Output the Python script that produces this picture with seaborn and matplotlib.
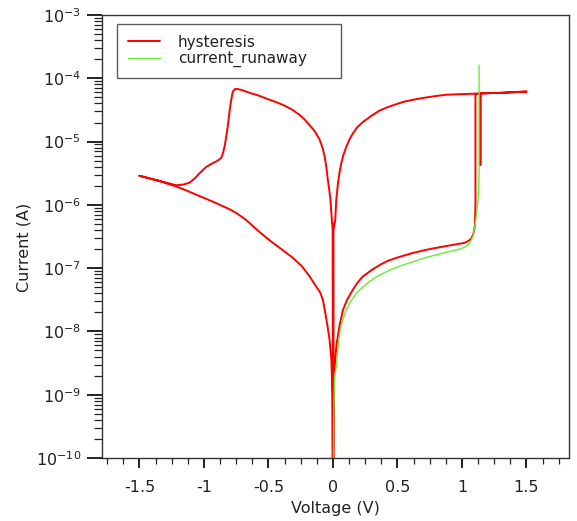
import matplotlib
matplotlib.use("Agg")
import matplotlib.pyplot as plt
import matplotlib.ticker as mticker
import seaborn as sns
import pandas as pd

# ---- data (voltage in V, current in A, in sweep order) ----
hyst_voltage = [
    # forward sweep, low state
    0.0, 0.004, 0.01, 0.018, 0.026, 0.04, 0.052, 0.078, 0.11, 0.155, 0.19, 0.233, 0.3, 0.362, 0.42, 0.49,
    0.62, 0.75, 0.88, 1.02, 1.05, 1.074, 1.09, 1.10, 1.105,
    # set and compliance
    1.105, 1.143, 1.143, 1.143, 1.2, 1.3, 1.4, 1.5,
    # return sweep, high state
    1.4, 1.3, 1.2, 1.138, 1.0, 0.88, 0.8, 0.7, 0.62, 0.55, 0.49, 0.42, 0.362, 0.3, 0.233, 0.19, 0.155, 0.13,
    0.104, 0.08, 0.065, 0.052, 0.039, 0.026, 0.018, 0.004, 0.003, 0.001, 0.0, -0.002,
    # negative sweep, high state then reset
    -0.012, -0.02, -0.03, -0.039, -0.05, -0.064, -0.08, -0.103, -0.14, -0.181, -0.22, -0.258, -0.32, -0.388,
    -0.45, -0.517, -0.58, -0.646, -0.70, -0.737, -0.76, -0.776, -0.782, -0.788, -0.80, -0.815, -0.828, -0.840,
    -0.852, -0.866, -0.90, -0.931, -0.982, -1.034, -1.07, -1.112, -1.16, -1.215, -1.35, -1.5,
    # return to zero, low state
    -1.35, -1.215, -1.14, -1.06, -0.93, -0.80, -0.74, -0.672, -0.58, -0.491, -0.40, -0.31, -0.24, -0.181,
    -0.13, -0.10, -0.078, -0.064, -0.045, -0.026, -0.012, -0.004, 0.0,
]
hyst_current = [
    1e-11, 5.0e-10, 2.0e-9, 3.55e-9, 5.75e-9, 8.9e-9, 1.26e-8, 2.19e-8, 3.16e-8, 4.57e-8, 5.89e-8, 7.41e-8, 9.33e-8, 1.12e-7, 1.29e-7, 1.45e-7,
    1.74e-7, 2.0e-7, 2.24e-7, 2.51e-7, 2.69e-7, 2.95e-7, 3.55e-7, 4.57e-7, 1.0e-6,
    5.62e-5, 5.75e-5, 4.27e-6, 5.75e-5, 5.82e-5, 5.89e-5, 6.03e-5, 6.17e-5,
    6.03e-5, 5.89e-5, 5.82e-5, 5.75e-5, 5.62e-5, 5.5e-5, 5.25e-5, 4.9e-5, 4.57e-5, 4.27e-5, 3.89e-5, 3.47e-5, 3.09e-5, 2.57e-5, 2.04e-5, 1.7e-5, 1.35e-5, 1.1e-5,
    8.3e-6, 6.03e-6, 4.57e-6, 3.31e-6, 2.19e-6, 1.2e-6, 5.75e-7, 4.0e-7, 1e-11, 5.0e-7, 1e-11, 4.0e-7,
    7.41e-7, 1.26e-6, 1.82e-6, 2.45e-6, 3.8e-6, 5.75e-6, 7.94e-6, 1.07e-5, 1.45e-5, 1.82e-5, 2.24e-5, 2.63e-5, 3.24e-5, 3.8e-5,
    4.27e-5, 4.79e-5, 5.37e-5, 5.89e-5, 6.46e-5, 6.76e-5, 6.76e-5, 6.17e-5, 5.37e-5, 4.57e-5, 3.16e-5, 1.74e-5, 1.17e-5, 8.3e-6,
    6.6e-6, 5.5e-6, 4.9e-6, 4.57e-6, 3.98e-6, 3.16e-6, 2.63e-6, 2.24e-6, 2.09e-6, 2.04e-6, 2.4e-6, 2.88e-6,
    2.4e-6, 1.95e-6, 1.7e-6, 1.45e-6, 1.12e-6, 8.5e-7, 7.24e-7, 5.75e-7, 3.89e-7, 2.75e-7, 2.0e-7, 1.45e-7, 1.07e-7, 7.41e-8,
    5.13e-8, 4.17e-8, 3.16e-8, 2.24e-8, 1.32e-8, 7.41e-9, 3.55e-9, 1.0e-9, 1e-11,
]
run_voltage = [0.002, 0.006, 0.013, 0.02, 0.026, 0.04, 0.052, 0.075, 0.104, 0.14, 0.181, 0.23, 0.285, 0.36, 0.44,
               0.53, 0.62, 0.71, 0.80, 0.89, 0.983, 1.03, 1.06, 1.085, 1.10, 1.115, 1.125, 1.133, 1.133]
run_current = [1e-11, 4.5e-10, 1.95e-9, 2.4e-9, 2.75e-9, 5.62e-9, 9.3e-9, 1.51e-8, 2.19e-8, 3.02e-8, 3.98e-8, 5.0e-8, 6.17e-8, 7.76e-8, 9.3e-8,
               1.1e-7, 1.26e-7, 1.45e-7, 1.62e-7, 1.8e-7, 2.0e-7, 2.19e-7, 2.45e-7, 3.16e-7, 4.57e-7, 7.59e-7, 1.2e-6, 3.16e-6, 1.62e-4]

x_ticks = [-1.5, -1, -0.5, 0, 0.5, 1, 1.5]
x_tick_labels = ["-1.5", "-1", "-0.5", "0", "0.5", "1", "1.5"]
y_ticks = [1e-10, 1e-9, 1e-8, 1e-7, 1e-6, 1e-5, 1e-4, 1e-3]
series_names = ["hysteresis", "current_runaway"]
series_colors = ["#ff0000", "#66ee33"]

# ---- plotting ----
sns.set_style("ticks")
plt.rcParams["font.family"] = ["DejaVu Sans"]

fig = plt.figure(figsize=(5.77, 5.21), dpi=100)
ax = fig.add_axes([102 / 577, 1 - 458 / 521, 467 / 577, 443 / 521])

df_h = pd.DataFrame({"V": hyst_voltage, "I": hyst_current})
df_r = pd.DataFrame({"V": run_voltage, "I": run_current})
sns.lineplot(data=df_h, x="V", y="I", sort=False, estimator=None, color=series_colors[0],
             linewidth=1.4, label=series_names[0], ax=ax)
sns.lineplot(data=df_r, x="V", y="I", sort=False, estimator=None, color=series_colors[1],
             linewidth=1.0, label=series_names[1], ax=ax)

ax.set_yscale("log")
ax.set_ylim(1e-10, 1e-3)
ax.set_xlim(-1.79, 1.83)
ax.yaxis.set_major_locator(mticker.FixedLocator(y_ticks))
ax.yaxis.set_major_formatter(mticker.LogFormatterSciNotation(base=10))
ax.yaxis.set_minor_locator(mticker.LogLocator(base=10, subs=range(2, 10), numticks=100))
ax.yaxis.set_minor_formatter(mticker.NullFormatter())
ax.set_xticks(x_ticks)
ax.set_xticklabels(x_tick_labels)
ax.xaxis.set_minor_locator(mticker.MultipleLocator(0.125))
ax.yaxis.offsetText.set_visible(False)
ax.xaxis.offsetText.set_visible(False)

ax.tick_params(axis="x", which="major", length=7, width=1.4, pad=9, labelsize=11.5, direction="out", color="#222222")
ax.tick_params(axis="x", which="minor", length=4.5, width=0.9, direction="out", color="#222222")
ax.tick_params(axis="y", which="major", length=11, width=1.4, pad=4, labelsize=11.5, direction="out", color="#222222")
ax.tick_params(axis="y", which="minor", length=5.5, width=0.9, direction="out", color="#222222")
ax.tick_params(top=False, right=False, which="both", labelcolor="#222222")
for s in ax.spines.values():
    s.set_visible(True)
    s.set_color("#333333")
    s.set_linewidth(1.0)

ax.set_xlabel("Voltage (V)", fontsize=11.5, labelpad=4, color="#222222")
ax.set_ylabel("Current (A)", fontsize=11.5, color="#222222")
ax.yaxis.set_label_coords(-0.152, 0.475)

leg = ax.legend(loc="upper left", bbox_to_anchor=(0.032, 0.98, 0.48, 0.0), mode="expand",
                fontsize=11, frameon=True, fancybox=False, borderpad=0.7,
                handlelength=2.1, handletextpad=1.2, labelspacing=0.1, borderaxespad=0)
leg.get_frame().set_edgecolor("#333333")
leg.get_frame().set_linewidth(1.0)
for t in leg.get_texts():
    t.set_color("#222222")

fig.savefig("out.png", dpi=100)
